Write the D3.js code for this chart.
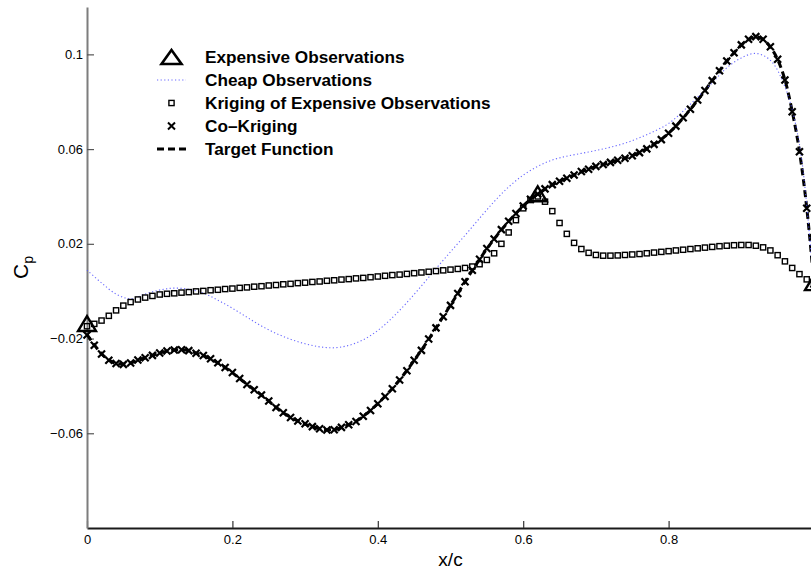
<!DOCTYPE html>
<html>
<head>
<meta charset="utf-8">
<script src="https://cdn.jsdelivr.net/npm/d3@7"></script>
<style>
  html, body { margin: 0; padding: 0; background: #fff; overflow: hidden; }
  text { font-family: "Liberation Sans", Arial, Helvetica, sans-serif; }
</style>
</head>
<body>
<svg id="chart" width="811" height="570"></svg>
<script>
// ---- data -------------------------------------------------------------
const xTicks = [0, 0.2, 0.4, 0.6, 0.8, 1];
const yTicks = [-0.06, -0.02, 0.02, 0.06, 0.1];

// expensive (high-fidelity) samples
const expensiveX = [0, 0.62, 1];
const expensiveY = [-0.0143, 0.0405, 0.003];

// cheap (low-fidelity) curve, sampled every 0.02 in x/c
const cheapStep = 0.02;
const cheapY = [
  0.0089, 0.0035, -0.0012, -0.0032, -0.0012, 0.0005, 0.0013, 0.0008, -0.0008, -0.0038,
  -0.0072, -0.0110, -0.0147, -0.0178, -0.0203, -0.0222, -0.0235, -0.0239, -0.0229, -0.0205,
  -0.0166, -0.0112, -0.0048, 0.0022, 0.0095, 0.0166, 0.0236, 0.0308, 0.0378, 0.0440,
  0.0490, 0.0527, 0.0554, 0.0570, 0.0582, 0.0594, 0.0608, 0.0625, 0.0648, 0.0675,
  0.0708, 0.0760, 0.0820, 0.0880, 0.0943, 0.0985, 0.1004, 0.0975, 0.0863, 0.0620,
  0.0000
];

// predictions, sampled every 0.01 in x/c
const predStep = 0.01;
const krigingY = [
  -0.0148, -0.0138, -0.0124, -0.0104, -0.0081, -0.0061, -0.0046, -0.0035, -0.0027, -0.0020,
  -0.0014, -0.0011, -0.0009, -0.0006, -0.0004, -0.0001, 0.0001, 0.0004, 0.0006, 0.0009,
  0.0011, 0.0014, 0.0016, 0.0019, 0.0021, 0.0024, 0.0026, 0.0029, 0.0031, 0.0034,
  0.0036, 0.0039, 0.0041, 0.0044, 0.0046, 0.0049, 0.0051, 0.0054, 0.0056, 0.0059,
  0.0062, 0.0065, 0.0068, 0.0070, 0.0073, 0.0076, 0.0079, 0.0082, 0.0085, 0.0088,
  0.0091, 0.0094, 0.0098, 0.0104, 0.0114, 0.0132, 0.0160, 0.0200, 0.0248, 0.0300,
  0.0350, 0.0385, 0.0400, 0.0378, 0.0338, 0.0288, 0.0242, 0.0204, 0.0178, 0.0162,
  0.0153, 0.0150, 0.0150, 0.0151, 0.0153, 0.0155, 0.0157, 0.0160, 0.0163, 0.0166,
  0.0169, 0.0172, 0.0175, 0.0178, 0.0181, 0.0184, 0.0187, 0.0190, 0.0192, 0.0194,
  0.0195, 0.0195, 0.0192, 0.0185, 0.0172, 0.0152, 0.0126, 0.0098, 0.0072, 0.0050,
  0.0030
];
const coKrigingY = [
  -0.0185, -0.0228, -0.0265, -0.0292, -0.0305, -0.0309, -0.0303, -0.0291, -0.0281, -0.0271,
  -0.0261, -0.0253, -0.0248, -0.0247, -0.0251, -0.0262, -0.0272, -0.0285, -0.0302, -0.0322,
  -0.0343, -0.0369, -0.0394, -0.0416, -0.0438, -0.0464, -0.0491, -0.0513, -0.0533, -0.0548,
  -0.0560, -0.0572, -0.0581, -0.0586, -0.0585, -0.0575, -0.0564, -0.0550, -0.0528, -0.0504,
  -0.0475, -0.0445, -0.0412, -0.0375, -0.0336, -0.0292, -0.0250, -0.0202, -0.0155, -0.0108,
  -0.0060, -0.0010, 0.0040, 0.0088, 0.0135, 0.0180, 0.0220, 0.0260, 0.0295, 0.0328,
  0.0360, 0.0388, 0.0410, 0.0432, 0.0450, 0.0464, 0.0477, 0.0491, 0.0505, 0.0515,
  0.0527, 0.0535, 0.0544, 0.0553, 0.0561, 0.0572, 0.0585, 0.0601, 0.0620, 0.0640,
  0.0667, 0.0697, 0.0732, 0.0768, 0.0807, 0.0847, 0.0889, 0.0931, 0.0972, 0.1007,
  0.1040, 0.1064, 0.1075, 0.1064, 0.1032, 0.0979, 0.0892, 0.0758, 0.0589, 0.0350,
  0.0030
];

// target function, sampled every 0.01 in x/c
const targetY = [
  -0.0183, -0.0227, -0.0264, -0.0291, -0.0305, -0.0308, -0.0303, -0.0292, -0.0281, -0.0271,
  -0.0261, -0.0253, -0.0248, -0.0247, -0.0251, -0.0261, -0.0272, -0.0286, -0.0303, -0.0322,
  -0.0344, -0.0369, -0.0393, -0.0416, -0.0439, -0.0464, -0.0490, -0.0513, -0.0532, -0.0548,
  -0.0561, -0.0572, -0.0580, -0.0585, -0.0584, -0.0576, -0.0564, -0.0549, -0.0528, -0.0503,
  -0.0475, -0.0444, -0.0411, -0.0375, -0.0335, -0.0292, -0.0249, -0.0203, -0.0155, -0.0107,
  -0.0059, -0.0010, 0.0040, 0.0088, 0.0134, 0.0179, 0.0220, 0.0259, 0.0295, 0.0328,
  0.0360, 0.0387, 0.0410, 0.0431, 0.0449, 0.0464, 0.0478, 0.0491, 0.0504, 0.0516,
  0.0526, 0.0535, 0.0544, 0.0553, 0.0562, 0.0572, 0.0586, 0.0602, 0.0620, 0.0641,
  0.0667, 0.0697, 0.0731, 0.0768, 0.0807, 0.0847, 0.0889, 0.0931, 0.0971, 0.1007,
  0.1039, 0.1063, 0.1074, 0.1063, 0.1031, 0.0978, 0.0893, 0.0760, 0.0590, 0.0352,
  0.0030
];

const legendLabels = [
  "Expensive Observations",
  "Cheap Observations",
  "Kriging of Expensive Observations",
  "Co\u2013Kriging",
  "Target Function"
];

// ---- layout -----------------------------------------------------------
const svg = d3.select("#chart");
const x = d3.scaleLinear().domain([0, 1]).range([87, 814]);
const y = d3.scaleLinear().domain([-0.1, 0.12]).range([528, 7]);
const fmt = d3.format(".2~f");

// axes (ticks point inward)
const gx = svg.append("g")
  .attr("transform", `translate(0,${y(-0.1)})`)
  .call(d3.axisBottom(x).tickValues(xTicks).tickFormat(fmt)
    .tickSizeInner(-7).tickSizeOuter(0).tickPadding(7));
gx.select(".domain").attr("stroke", "#1a1a1a").attr("stroke-width", 1.8);
gx.selectAll(".tick line").attr("stroke", "#333").attr("stroke-width", 1.2);
gx.selectAll(".tick text").attr("font-size", 13).attr("fill", "#000")
  .attr("font-family", "'Liberation Sans', Arial, sans-serif");

const gy = svg.append("g")
  .attr("transform", `translate(${x(0)},0)`)
  .call(d3.axisLeft(y).tickValues(yTicks).tickFormat(fmt)
    .tickSizeInner(-7).tickSizeOuter(0).tickPadding(4));
gy.select(".domain").attr("stroke", "#7d7d7d").attr("stroke-width", 2);
gy.selectAll(".tick line").attr("stroke", "#555").attr("stroke-width", 1.2);
gy.selectAll(".tick text").attr("font-size", 13).attr("fill", "#000")
  .attr("font-family", "'Liberation Sans', Arial, sans-serif");

// axis titles
svg.append("text")
  .attr("x", (x(0) + x(1)) / 2).attr("y", 566)
  .attr("text-anchor", "middle").attr("font-size", 19).attr("fill", "#000")
  .text("x/c");

const yl = svg.append("text")
  .attr("transform", `translate(28,${(y(-0.1) + y(0.12)) / 2}) rotate(-90)`)
  .attr("text-anchor", "middle").attr("font-size", 21).attr("fill", "#000");
yl.append("tspan").text("C");
yl.append("tspan").attr("font-size", 14).attr("dy", 5).text("p");

// ---- series -----------------------------------------------------------
const plot = svg.append("g");

// target function: thick dashed line
plot.append("path")
  .datum(targetY)
  .attr("fill", "none").attr("stroke", "#000").attr("stroke-width", 3)
  .attr("stroke-dasharray", "7,4")
  .attr("d", d3.line().x((d, i) => x(i * predStep)).y(d => y(d)).curve(d3.curveMonotoneX));

// cheap observations: thin blue dotted line
plot.append("path")
  .datum(cheapY)
  .attr("fill", "none").attr("stroke", "#4d4dff").attr("stroke-width", 1.1)
  .attr("stroke-opacity", 0.85).attr("stroke-dasharray", "1.2,2.4")
  .attr("d", d3.line().x((d, i) => x(i * cheapStep)).y(d => y(d)).curve(d3.curveCatmullRom));

// kriging of expensive observations: open squares
const sq = 5.2;
plot.append("g").selectAll("rect").data(krigingY).join("rect")
  .attr("x", (d, i) => x(i * predStep) - sq / 2)
  .attr("y", d => y(d) - sq / 2)
  .attr("width", sq).attr("height", sq)
  .attr("fill", "none").attr("stroke", "#000").attr("stroke-width", 1.4);

// co-kriging: crosses
const cr = 3.5;
const crossPath = `M${-cr},${-cr}L${cr},${cr}M${-cr},${cr}L${cr},${-cr}`;
plot.append("g").selectAll("path").data(coKrigingY).join("path")
  .attr("transform", (d, i) => `translate(${x(i * predStep)},${y(d)})`)
  .attr("d", crossPath)
  .attr("fill", "none").attr("stroke", "#000").attr("stroke-width", 2.2);

// expensive observations: open triangles
const triPath = "M0,-9L9,6L-9,6Z";
plot.append("g").selectAll("path").data(expensiveX).join("path")
  .attr("transform", (d, i) => `translate(${x(d)},${y(expensiveY[i])})`)
  .attr("d", triPath)
  .attr("fill", "none").attr("stroke", "#000").attr("stroke-width", 2.4)
  .attr("stroke-linejoin", "miter");

// ---- legend -----------------------------------------------------------
const lg = svg.append("g");
const lgX = 171.5, lgText = 205, lgY0 = 57, lgDy = 23;
legendLabels.forEach((label, k) => {
  const cy = lgY0 + k * lgDy;
  lg.append("text").attr("x", lgText).attr("y", cy + 6)
    .attr("font-size", 17.2).attr("font-weight", "bold").attr("fill", "#000")
    .text(label);
});
lg.append("path").attr("transform", `translate(${lgX},${lgY0 + 1})`).attr("d", "M0,-8L10,6L-10,6Z")
  .attr("fill", "none").attr("stroke", "#000").attr("stroke-width", 2.6);
lg.append("line").attr("x1", 157).attr("x2", 186)
  .attr("y1", lgY0 + lgDy).attr("y2", lgY0 + lgDy)
  .attr("stroke", "#4d4dff").attr("stroke-width", 1.1).attr("stroke-opacity", 0.85)
  .attr("stroke-dasharray", "1.2,2.4");
lg.append("rect").attr("x", lgX - sq / 2).attr("y", lgY0 + 2 * lgDy - sq / 2)
  .attr("width", sq).attr("height", sq)
  .attr("fill", "none").attr("stroke", "#000").attr("stroke-width", 1.4);
lg.append("path").attr("transform", `translate(${lgX},${lgY0 + 3 * lgDy})`)
  .attr("d", crossPath).attr("fill", "none").attr("stroke", "#000").attr("stroke-width", 2);
lg.append("line").attr("x1", 157).attr("x2", 187)
  .attr("y1", lgY0 + 4 * lgDy).attr("y2", lgY0 + 4 * lgDy)
  .attr("stroke", "#000").attr("stroke-width", 3.2).attr("stroke-dasharray", "7,4");
</script>
</body>
</html>
